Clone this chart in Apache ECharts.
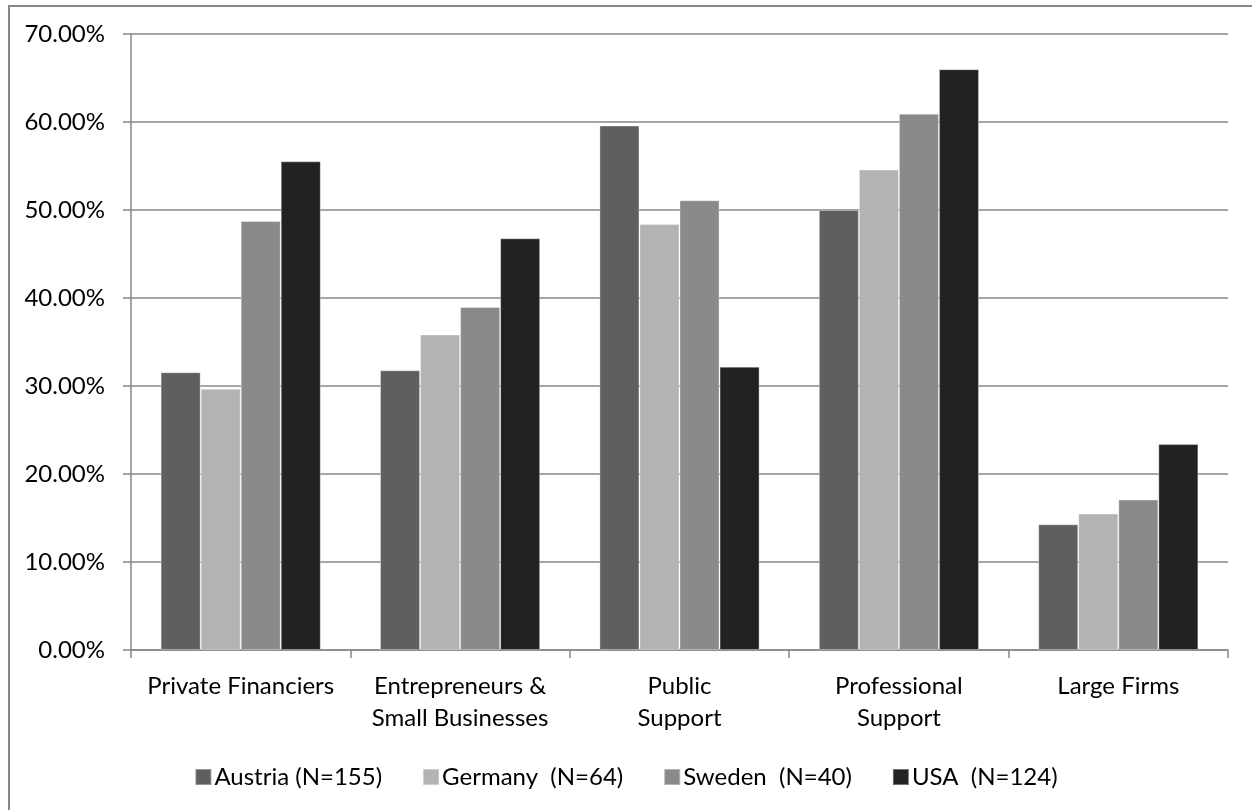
<!DOCTYPE html>
<html>
<head>
<meta charset="utf-8">
<script src="https://cdn.jsdelivr.net/npm/echarts@6/dist/echarts.min.js"></script>
<style>
  html, body { margin: 0; padding: 0; background: #fff; }
  #chart { width: 1252px; height: 810px; }
</style>
</head>
<body>
<div id="chart"></div>
<script>
// Share of respondents per source of support, by country (percent)
const categories = [
  'Private Financiers',
  'Entrepreneurs &\nSmall Businesses',
  'Public\nSupport',
  'Professional\nSupport',
  'Large Firms'
];
const seriesNames = ['Austria (N=155)', 'Germany  (N=64)', 'Sweden  (N=40)', 'USA  (N=124)'];
const austria = [31.56, 31.78, 59.60, 50.00, 14.28];
const germany = [29.69, 35.85, 48.40, 54.60, 15.50];
const sweden  = [48.75, 38.98, 51.10, 60.95, 17.10];
const usa     = [55.53, 46.78, 32.20, 66.00, 23.40];
const yTicks = { min: 0, max: 70, interval: 10 };

const values = [austria, germany, sweden, usa];
const colors = ['#5f5f5f', '#b3b3b3', '#8a8a8a', '#222222'];
const FONT = 'Lato';
const gridColor = '#878787';

const chart = echarts.init(document.getElementById('chart'), null, { renderer: 'canvas' });

chart.setOption({
  animation: false,
  backgroundColor: '#ffffff',
  textStyle: { fontFamily: FONT, color: '#000' },
  graphic: [{
    type: 'rect',
    shape: { x: 9, y: 6, width: 1280, height: 840 },
    style: { fill: 'none', stroke: '#878787', lineWidth: 2 },
    silent: true
  }],
  grid: { left: 131, right: 24, top: 34, bottom: 160, containLabel: false },
  legend: {
    data: seriesNames,
    left: 'center',
    top: 760,
    icon: 'rect',
    itemWidth: 16,
    itemHeight: 16,
    itemGap: 40,
    textStyle: { fontFamily: FONT, fontSize: 24, color: '#000', padding: [0, 0, 0, -2] }
  },
  xAxis: {
    type: 'category',
    data: categories,
    boundaryGap: true,
    axisLine: { show: true, lineStyle: { color: gridColor, width: 1.5 } },
    axisTick: { show: true, length: 8, alignWithLabel: false, lineStyle: { color: gridColor, width: 1.5 } },
    axisLabel: {
      interval: 0,
      margin: 20,
      fontFamily: FONT,
      fontSize: 24,
      lineHeight: 32,
      color: '#000',
      align: 'center'
    },
    splitLine: { show: false }
  },
  yAxis: {
    type: 'value',
    min: yTicks.min,
    max: yTicks.max,
    interval: yTicks.interval,
    axisLine: { show: true, lineStyle: { color: gridColor, width: 1.5 } },
    axisTick: { show: true, length: 8, lineStyle: { color: gridColor, width: 1.5 } },
    axisLabel: {
      margin: 26,
      fontFamily: FONT,
      fontSize: 24,
      color: '#000',
      formatter: v => v.toFixed(2) + '%'
    },
    splitLine: { show: true, lineStyle: { color: gridColor, width: 1.5 } }
  },
  series: seriesNames.map((name, i) => ({
    name: name,
    type: 'bar',
    data: values[i],
    barGap: '0%',
    barCategoryGap: '27%',
    itemStyle: {
      color: colors[i],
      borderColor: 'rgba(255,255,255,0.35)',
      borderWidth: 1
    }
  }))
});
</script>
</body>
</html>
